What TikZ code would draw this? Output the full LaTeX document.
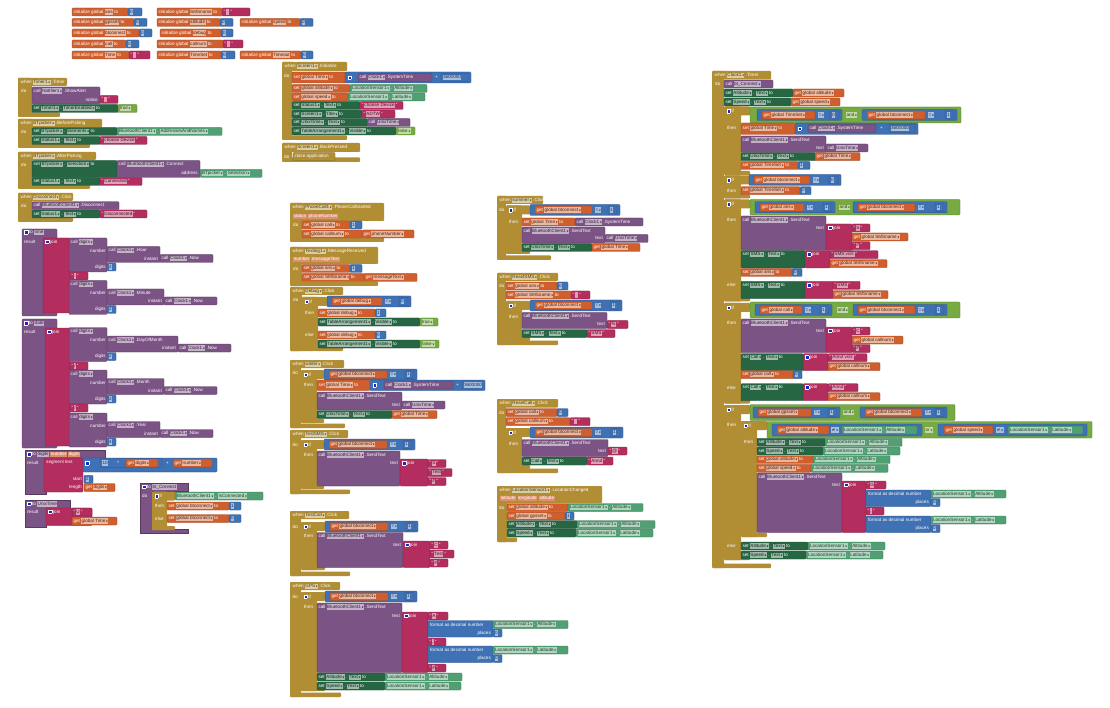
\documentclass[tikz,border=0pt]{standalone}
\usepackage{graphicx}
\usepackage{fontspec}
\newfontfamily\lib{Liberation Sans}
\newfontfamily\dvs{DejaVu Sans}
\definecolor{cev}{RGB}{177,141,52}
\definecolor{cva}{RGB}{208,95,45}
\definecolor{cse}{RGB}{38,102,67}
\definecolor{cge}{RGB}{80,160,115}
\definecolor{cpr}{RGB}{124,83,133}
\definecolor{cma}{RGB}{63,113,181}
\definecolor{ctx}{RGB}{179,45,94}
\definecolor{clo}{RGB}{119,171,65}
\definecolor{icb}{RGB}{20,40,200}
\newcommand\blkfont{\lib\fontsize{4.6}{5}\selectfont}
\newcounter{bn}
\tikzset{lbl/.style={anchor=west,inner sep=0pt,text=white,font=\blkfont,
  execute at begin node={\colorlet{fldc}{white!55!#1}\colorlet{fldt}{#1!40!black}}}}
\newcommand\Fl[1]{{\setlength\fboxsep{0.45pt}\colorbox{fldc}{\color{fldt}\vphantom{Ag}#1}}}
\newcommand\Dd[1]{{\setlength\fboxsep{0.45pt}\colorbox{fldc}{\color{fldt}\vphantom{Ag}#1\,{\dvs\scalebox{0.5}{▼}}}}}
\newcommand\Pf[1]{{\setlength\fboxsep{0.6pt}\colorbox{cva!70!white}{\color{white}\vphantom{Ag}#1}}}
\newcommand\Qt[1]{"\,\Fl{#1}\,"}
\newcommand\Ic{{\setlength\fboxsep{0pt}\setlength\fboxrule{0.25pt}\fcolorbox{white}{icb}{\rule{0pt}{3.2pt}\rule{3.2pt}{0pt}}}}
\newcommand\Tx[4]{\stepcounter{bn}\node[lbl=#1] (n\arabic{bn}) at (#2,#3) {#4};}
\newcommand\Te[4]{\stepcounter{bn}\node[lbl=#1,anchor=east] (n\arabic{bn}) at (#2,#3) {#4};}
\newcommand\Bx[5]{\filldraw[fill=#1,draw=#1!70!black,line width=0.2pt,rounded corners=0.8pt] (#2,#3) rectangle (#4,#5);}
\newcommand\Rw[5]{\Bx{#1}{#2}{#4-4}{#3}{#4+4}\Tx{#1}{#2+1.4}{#4}{#5}}
\newcommand\Nm[4]{\Rw{cma}{#1}{#2}{#3}{\Fl{#4}}}
\newcommand\Str[4]{\Rw{ctx}{#1}{#2}{#3}{\Qt{#4}}}
\newcommand\Getv[4]{\Rw{cva}{#1}{#2}{#3}{get \Dd{#4}}}
\newcommand\Setv[4]{\Rw{cva}{#1}{#2}{#3}{set \Dd{global #4} to}}
\newcommand\Setc[5]{\Rw{cse}{#1}{#2}{#3}{set \Dd{#4} . \Dd{#5} to}}
\newcommand\Loc[4]{\Rw{cge}{#1}{#2}{#3}{\Dd{LocationSensor1} . \Dd{#4}}}
\newcommand\SendT[5]{\Bx{cpr}{#1}{#2}{#3}{#4}\Tx{cpr}{#1+1.4}{#2+4}{call \Dd{BluetoothClient1} .SendText}\Te{cpr}{#3-2}{#5}{text}}
\newcommand\Cmp[6]{\Bx{cma}{#1}{#4-5.5}{#3}{#4+5.5}\Rw{cva}{#1+5}{#2}{#4}{get \Dd{global #5}}\Tx{cma}{#2+3}{#4}{\Dd{=}}\Nm{#3-12}{#3-3}{#4}{#6}}
\newcommand\Fmt[3]{\Bx{cma}{#1}{#2}{#1+65}{#2+16.5}\Tx{cma}{#1+2}{#2+4}{format as decimal number}\Te{cma}{#1+63}{#2+12.5}{places}\Loc{#1+65}{#1+140}{#2+4}{#3}\Nm{#1+65}{#1+74}{#2+12.5}{0}}
\newcommand\Dig[4]{\Bx{cpr}{69}{#1}{107}{#1+34}\Tx{cpr}{70.5}{#1+4}{call \Dd{digits}}%
 \Te{cpr}{106}{#1+12.5}{number}%
 \Bx{cpr}{107}{#1+8.5}{#3}{#1+24.5}\Tx{cpr}{108.5}{#1+12.5}{call \Dd{Clock1} .#2}\Te{cpr}{#3-2}{#1+20.5}{instant}%
 \Rw{cpr}{#3}{#3+53}{#1+20.5}{call \Dd{Clock1} .Now}%
 \Te{cpr}{106}{#1+29}{digits}\Nm{107}{116}{#1+29}{#4}}
\newcommand\Ev[8]{\fill[cev,rounded corners=1pt] (#1,#2) rectangle (#3,#4); \fill[cev,rounded corners=1pt] (#1,#2) rectangle (#5,#6); \fill[cev,rounded corners=1pt] (#1,#6-4.5) rectangle (#7,#6); \Tx{cev}{#1+2.5}{#2+4.5}{#8}}
\newcommand\If[5]{\fill[cev,rounded corners=1pt] (#1,#2) rectangle (#3,#2+9); \fill[cev,rounded corners=1pt] (#1,#2) rectangle (#4,#5); \fill[cev,rounded corners=1pt] (#1,#5-4) rectangle (#3,#5); \Tx{cev}{#1+2.5}{#2+4.5}{\Ic\ if}}

\begin{document}
\begin{tikzpicture}[x=1pt,y=-1pt]
\fill[white] (0,0) rectangle (1110,708);
\useasboundingbox (0,0) rectangle (1110,708);
% ---------- globals
\Rw{cva}{72}{128}{12}{initialize global \Fl{ans} to}\Nm{128}{142}{12}{0}
\Rw{cva}{72}{134}{22.5}{initialize global \Fl{gpsset} to}\Nm{134}{147}{22.5}{0}
\Rw{cva}{72}{139}{33}{initialize global \Fl{btconnect} to}\Nm{139}{152}{33}{0}
\Rw{cva}{72}{126}{44}{initialize global \Fl{call} to}\Nm{126}{139}{44}{0}
\Rw{cva}{72}{129}{55}{initialize global \Fl{Time} to}\Str{129}{150}{55}{\phantom{0}}
\Rw{cva}{157}{222}{12}{initialize global \Fl{SMSname} to}\Str{222}{250}{12}{\phantom{0}}
\Rw{cva}{157}{220}{22.5}{initialize global \Fl{altitude} to}\Nm{220}{233}{22.5}{0}
\Rw{cva}{160}{221}{33}{initialize global \Fl{debug} to}\Nm{221}{233}{33}{0}
\Rw{cva}{157}{223}{44}{initialize global \Fl{callnum} to}\Str{223}{243}{44}{\phantom{0}}
\Rw{cva}{157}{221}{55}{initialize global \Fl{TimeSet} to}\Nm{221}{235}{55}{0}
\Rw{cva}{240}{300}{22.5}{initialize global \Fl{speed} to}\Nm{300}{313}{22.5}{0}
\Rw{cva}{240}{301}{55}{initialize global \Fl{Timeout} to}\Nm{301}{313}{55}{0}
% ---------- Screen1.Initialize
\Ev{282}{62}{347}{71}{292}{140}{347}{when \Dd{Screen1} .Initialize}
\Tx{cev}{284}{76}{do}
\Bx{cva}{292}{72}{346}{83}\Tx{cva}{293.5}{77.5}{set \Dd{global Time} to}
\Bx{cma}{345}{72}{471}{83}\Tx{cma}{347.5}{77.5}{\Ic}
\Rw{cpr}{358}{432}{77.5}{call \Dd{Clock1} .SystemTime}\Tx{cma}{435}{77.5}{+}\Nm{441}{468}{77.5}{3600000}
\Setv{292}{350}{88.5}{altitude}\Loc{350}{427}{88.5}{Altitude}
\Setv{292}{348}{97}{speed}\Loc{348}{425}{97}{Latitude}
\Setc{292}{360}{105.5}{Status1}{Text}\Str{360}{403}{105.5}{choose Device}
\Setc{292}{362}{114}{Screen1}{Title}\Str{362}{395}{114}{ADTW}
\Setc{292}{367}{122.5}{UnixTime}{Text}\Rw{cpr}{367}{410}{122.5}{call \Dd{UnixTime}}
\Setc{292}{396}{131}{TableArrangement1}{Visible}\Rw{clo}{396}{415}{131}{\Dd{false}}
% ---------- Screen1.BackPressed
\Ev{282}{143}{360}{152}{292}{162}{360}{when \Dd{Screen1} .BackPressed}
\Tx{cev}{284}{157}{do}
\Rw{cev}{293}{335}{156.5}{close application}
% ---------- Timer1.Timer
\Ev{18}{78}{67}{86}{32}{117}{60}{when \Dd{Timer1} .Timer}
\Tx{cev}{21}{91}{do}
\Bx{cpr}{32}{87}{100}{104}\Tx{cpr}{33.5}{91}{call \Dd{Notifier1} .ShowAlert}\Te{cpr}{98}{99.5}{notice}
\Str{100}{118}{99.5}{\phantom{0}}
\Setc{32}{118}{108.5}{Timer1}{TimerEnabled}\Rw{clo}{118}{137}{108.5}{\Dd{true}}
% ---------- BTpicker.BeforePicking
\Ev{18}{119}{102}{127.5}{32}{148}{90}{when \Dd{BTpicker} .BeforePicking}
\Tx{cev}{21}{131.5}{do}
\Setc{32}{117}{131.5}{BTpicker}{Elements}\Rw{cge}{117}{222}{131.5}{\Dd{BluetoothClient1} . \Dd{AddressesAndNames}}
\Setc{32}{100}{140.5}{Status1}{Text}\Str{100}{147}{140.5}{choose Device}
% ---------- BTpicker.AfterPicking
\Ev{18}{152}{96}{160}{32}{189}{90}{when \Dd{BTpicker} .AfterPicking}
\Tx{cev}{21}{164.5}{do}
\Bx{cse}{32}{160.5}{117}{177.5}\Tx{cse}{33.5}{164.5}{set \Dd{BTpicker} . \Dd{Selection} to}
\Bx{cpr}{117}{160.5}{200}{177.5}\Tx{cpr}{118.5}{164.5}{call \Dd{BluetoothClient1} .Connect}\Te{cpr}{198}{173.3}{address}
\Rw{cge}{200}{262}{173.3}{\Dd{BTpicker} . \Dd{Selection}}
\Setc{32}{100}{181.5}{Status1}{Text}\Str{100}{142}{181.5}{Connected}
% ---------- Disconnect.Click
\Ev{18}{193}{73}{201}{32}{222}{73}{when \Dd{Disconnect} .Click}
\Tx{cev}{21}{205.7}{do}
\Rw{cpr}{32}{119}{205.7}{call \Dd{BluetoothClient1} .Disconnect}
\Setc{32}{100}{214}{Status1}{Text}\Str{100}{147}{214}{Disconnected}
% ---------- to time
\Bx{cpr}{22}{229}{57}{316}
\Tx{cpr}{24}{232.5}{\Ic\ to \Fl{time}}\Tx{cpr}{24}{242}{result}
\Bx{ctx}{43}{238}{70}{313}\Tx{ctx}{45}{242}{\Ic\ join}
\Dig{238}{Hour}{160}{2}
\Str{70}{88}{276}{:}
\Dig{280.5}{Minute}{164}{2}
% ---------- to date
\Bx{cpr}{22}{319}{57}{448}
\Tx{cpr}{24}{323.5}{\Ic\ to \Fl{date}}\Tx{cpr}{24}{332}{result}
\Bx{ctx}{45}{328}{70}{446}\Tx{ctx}{47}{332}{\Ic\ join}
\Dig{327.5}{DayOfMonth}{178}{2}
\Str{70}{88}{366}{/}
\Dig{370}{Month}{164}{2}
\Str{70}{88}{408}{/}
\Dig{413}{Year}{160}{4}
% ---------- to digits
\filldraw[fill=cpr,draw=cpr!70!black,line width=0.2pt] (25,450) -- (105,450) -- (105,459) -- (46,459) -- (46,494) -- (25,494) -- cycle;
\Tx{cpr}{27}{454.5}{\Ic\ to \Fl{digits} \Pf{number} \Pf{digits}}
\Tx{cpr}{27}{463}{result}
\Bx{ctx}{44}{458}{83}{492}\Tx{ctx}{46}{462.7}{segment text}
\Bx{cma}{83}{458}{217}{472}\Tx{cma}{85}{463}{\Ic}
\Bx{cma}{100}{458.7}{162}{467.3}\Tx{cma}{102}{463}{\Fl{10}}\Tx{cma}{117}{463}{\textasciicircum}
\Getv{126}{158}{463}{digits}
\Tx{cma}{166}{463}{+}\Getv{173}{212}{463}{number}
\Te{ctx}{82}{479.3}{start}\Nm{84}{93}{479.3}{2}
\Te{ctx}{82}{487.5}{length}\Getv{84}{115}{487.5}{digits}
% ---------- to UnixTime
\filldraw[fill=cpr,draw=cpr!70!black,line width=0.2pt] (25,500) -- (70,500) -- (70,508) -- (46,508) -- (46,527) -- (25,527) -- cycle;
\Tx{cpr}{27}{504}{\Ic\ to \Fl{UnixTime}}\Tx{cpr}{27}{512}{result}
\Bx{ctx}{46}{508}{92}{525.5}\Tx{ctx}{48}{512}{\Ic\ join}
\Str{72}{92}{512}{U}
\Getv{72}{117}{521}{global Time}
% ---------- to bt_Connect
\filldraw[fill=cpr,draw=cpr!70!black,line width=0.2pt] (140,483) -- (188,483) -- (188,491) -- (152,491) -- (152,529) -- (188,529) -- (188,533) -- (140,533) -- cycle;
\Tx{cpr}{142}{487}{\Ic\ to \Fl{bt\_Connect}}\Tx{cpr}{142}{496}{do}
\If{152}{491.5}{175}{167}{530}
\Tx{cev}{155}{506}{then}\Tx{cev}{155}{518.5}{else}
\Rw{cge}{175}{263}{496}{\Dd{BluetoothClient1} . \Dd{IsConnected}}
\Setv{167}{229}{506}{btconnect}\Nm{229}{241}{506}{1}
\Setv{167}{229}{518.5}{btconnect}\Nm{229}{241}{518.5}{0}
% ---------- PhoneCall1.PhoneCallStarted
\Ev{290}{203}{384}{221}{302}{242}{384}{when \Dd{PhoneCall1} .PhoneCallStarted}
\Tx{cev}{293}{216.5}{\Pf{status} \Pf{phoneNumber}}
\Tx{cev}{293}{225}{do}
\Setv{302}{350}{225}{call}\Nm{350}{362}{225}{1}
\Setv{302}{362}{234}{callnum}\Getv{362}{414}{234}{phoneNumber}
% ---------- Texting1.MessageReceived
\Ev{290}{247}{378}{264}{302}{286}{378}{when \Dd{Texting1} .MessageReceived}
\Tx{cev}{293}{259.5}{\Pf{number} \Pf{messageText}}
\Tx{cev}{293}{268.5}{do}
\Setv{302}{350}{268.5}{ans}\Nm{350}{362}{268.5}{1}
\Setv{302}{364}{277.5}{SMSname}\Getv{364}{417}{277.5}{messageText}
% ---------- Debug.Click
\Ev{290}{287}{343}{295}{302}{351}{343}{when \Dd{Debug} .Click}
\Tx{cev}{293}{299.5}{do}
\If{302}{297}{327}{318}{348.5}
\Tx{cev}{305}{313}{then}\Tx{cev}{305}{335}{else}
\Cmp{327}{382}{411}{301.5}{debug}{0}
\Setv{318}{375}{313}{debug}\Nm{375}{386}{313}{1}
\Setc{318}{420}{322}{TableArrangement1}{Visible}\Rw{clo}{420}{438}{322}{\Dd{true}}
\Setv{318}{375}{335}{debug}\Nm{375}{386}{335}{0}
\Setc{318}{420}{344}{TableArrangement1}{Visible}\Rw{clo}{420}{439}{344}{\Dd{false}}
% ---------- winter.Click
\Ev{290}{360}{344}{368}{301}{428}{345}{when \Dd{winter} .Click}
\Tx{cev}{292.5}{373}{do}
\If{301}{370}{324}{317}{423}
\Tx{cev}{304}{385}{then}
\Cmp{324}{387}{417}{374.5}{btconnect}{1}
\Bx{cva}{317}{380}{370}{390.5}\Tx{cva}{318.5}{385}{set \Dd{global Time} to}
\Bx{cma}{370}{380}{485}{390.5}\Tx{cma}{372.5}{385}{\Ic}
\Rw{cpr}{384}{453}{385}{call \Dd{Clock1} .SystemTime}\Tx{cma}{456}{385}{+}\Nm{462}{482}{385}{3600000}
\SendT{317}{392}{402}{410}{405}\Rw{cpr}{402}{445}{405}{call \Dd{UnixTime}}
\Setc{317}{392}{414.5}{UnixTime}{Text}\Getv{392}{437}{414.5}{global Time}
% ---------- TestSMS.Click
\Ev{290}{430}{348}{438}{301}{494}{350}{when \Dd{TestSMS} .Click}
\Tx{cev}{292.5}{444.5}{do}
\If{301}{440}{324}{317}{489}
\Tx{cev}{304}{455}{then}
\Cmp{324}{387}{415}{444.5}{btconnect}{1}
\SendT{317}{451}{400}{486}{463.5}
\Bx{ctx}{400}{459}{428}{486}\Tx{ctx}{402}{463.5}{\Ic\ join}
\Str{428}{446}{463.5}{S}\Str{428}{452}{472.5}{Test}\Str{428}{446}{481.5}{\#}
% ---------- TestCall.Click
\Ev{290}{511}{349}{519}{301}{576}{350}{when \Dd{TestCall} .Click}
\Tx{cev}{292.5}{526.5}{do}
\If{301}{522}{325}{317}{570}
\Tx{cev}{304}{536}{then}
\Cmp{325}{388}{418}{526.5}{btconnect}{1}
\SendT{317}{532.5}{403}{567.5}{545}
\Bx{ctx}{403}{541}{430}{567.5}\Tx{ctx}{405}{545}{\Ic\ join}
\Str{430}{448}{545}{C}\Str{430}{454}{554}{Test}\Str{430}{448}{563}{\#}
% ---------- GPS.Click
\Ev{290}{582}{340}{590}{301}{697}{341}{when \Dd{GPS} .Click}
\Tx{cev}{292.5}{596.5}{do}
\If{301}{592}{325}{317}{691}
\Tx{cev}{304}{607}{then}
\Cmp{325}{388}{417}{596.5}{btconnect}{1}
\SendT{317}{603}{402}{672.5}{616}
\Bx{ctx}{402}{612}{428}{672.5}\Tx{ctx}{404}{616}{\Ic\ join}
\Str{428}{448}{616}{A}
\Fmt{428}{620.5}{Altitude}
\Str{428}{446}{642}{,}
\Fmt{428}{646}{Latitude}
\Str{428}{446}{668}{\#}
\Setc{317}{385}{677}{Altitude}{Text}\Loc{385}{462}{677}{Altitude}
\Setc{317}{385}{686}{Speed}{Text}\Loc{385}{461}{686}{Latitude}
% ---------- summer.Click
\Ev{497}{196}{543}{204}{506}{260}{551}{when \Dd{summer} .Click}
\Tx{cev}{499}{210}{do}
\If{506}{205.5}{530}{522}{254}
\Tx{cev}{509}{222}{then}
\Cmp{530}{592}{620}{210}{btconnect}{1}
\Setv{522}{575}{222}{Time}\Rw{cpr}{575}{643}{222}{call \Dd{Clock1} .SystemTime}
\SendT{522}{227}{605}{243}{238.5}\Rw{cpr}{605}{648}{238.5}{call \Dd{UnixTime}}
\Setc{522}{592}{247.5}{UnixTime}{Text}\Getv{592}{640}{247.5}{global Time}
% ---------- ResetSMS.Click
\Ev{497}{273}{558}{281}{506}{345}{558}{when \Dd{ResetSMS} .Click}
\Tx{cev}{499}{286}{do}
\Setv{506}{557}{286}{ans}\Nm{557}{568}{286}{0}
\Setv{506}{571}{295}{SMSname}\Str{571}{590}{295}{\phantom{0}}
\If{506}{301}{530}{522}{341}
\Tx{cev}{509}{316.5}{then}
\Cmp{530}{592}{622}{305.5}{btconnect}{1}
\SendT{522}{312.5}{607}{328.5}{324.5}\Str{607}{628}{324.5}{\%}
\Setc{522}{587}{333.5}{SMS}{Text}\Str{587}{615}{333.5}{SMS}
% ---------- ResetCall.Click
\Ev{497}{399}{558}{407.5}{506}{473}{558}{when \Dd{ResetCall} .Click}
\Tx{cev}{499}{412.5}{do}
\Setv{506}{557}{412.5}{call}\Nm{557}{568}{412.5}{0}
\Setv{506}{570}{421.7}{callnum}\Str{570}{590}{421.7}{\phantom{0}}
\If{506}{428}{530}{522}{469}
\Tx{cev}{509}{443.5}{then}
\Cmp{530}{592}{623}{432.5}{btconnect}{1}
\SendT{522}{439.5}{608}{456.5}{451}\Str{608}{627}{451}{@}
\Setc{522}{587}{461}{Call}{Text}\Str{587}{613}{461}{Anruf}
% ---------- LocationSensor1.LocationChanged
\Ev{497}{486}{602}{503}{507}{542}{517}{when \Dd{LocationSensor1} .LocationChanged}
\Tx{cev}{500}{498.5}{\Pf{latitude} \Pf{longitude} \Pf{altitude}}
\Tx{cev}{499}{507.5}{do}
\Setv{507}{568}{507.5}{altitude}\Loc{568}{643}{507.5}{Altitude}
\Setv{507}{565}{516}{gpsset}\Nm{565}{574}{516}{1}
\Setc{507}{577}{524.5}{Altitude}{Text}\Loc{577}{655}{524.5}{Altitude}
\Setc{507}{576}{533}{Speed}{Text}\Loc{576}{653}{533}{Latitude}
% ---------- Clock1.Timer
\Ev{712}{71}{771}{79.5}{724}{568}{771}{when \Dd{Clock1} .Timer}
\Tx{cev}{715}{84}{do}
\Rw{cpr}{724}{773}{84}{call \Dd{bt\_Connect}}
\Setc{724}{793}{93}{Altitude}{Text}\Getv{793}{844}{93}{global altitude}
\Setc{724}{791}{102}{Speed}{Text}\Getv{791}{840}{102}{global speed}
% if 1
\If{724}{106.5}{750}{741}{175}
\Tx{cev}{727}{127.5}{then}
\Bx{clo}{750}{107}{961}{123}
\Cmp{757}{815}{842}{115}{TimeSet}{0}
\Tx{clo}{846}{115}{\Dd{and}}
\Cmp{862}{925}{957}{115}{btconnect}{1}
\Bx{cva}{741}{123}{795}{134.5}\Tx{cva}{742.5}{128.5}{set \Dd{global Time} to}
\Bx{cma}{795}{123}{918}{134.5}\Tx{cma}{797.5}{128.5}{\Ic}
\Rw{cpr}{808}{876}{128.5}{call \Dd{Clock1} .SystemTime}\Tx{cma}{880}{128.5}{+}\Nm{889}{915}{128.5}{3600000}
\SendT{741}{136}{826}{152.5}{148}\Rw{cpr}{826}{868}{148}{call \Dd{UnixTime}}
\Setc{741}{815}{156.7}{UnixTime}{Text}\Getv{815}{860}{156.7}{global Time}
\Setv{741}{798}{165.5}{TimeSet}\Nm{798}{810}{165.5}{1}
% if 2
\If{724}{175.5}{750}{741}{198.5}
\Tx{cev}{727}{190.7}{then}
\Cmp{749}{810}{841}{180}{btconnect}{0}
\Setv{741}{800}{190.7}{TimeSet}\Nm{800}{811}{190.7}{0}
% if 3
\If{724}{199.5}{750}{741}{301.5}
\Tx{cev}{727}{219.7}{then}\Tx{cev}{727}{285.3}{else}
\Bx{clo}{750}{199.5}{960}{215}
\Cmp{755}{804}{835}{207.3}{ans}{1}
\Tx{clo}{839}{207.3}{\Dd{and}}
\Cmp{853}{915}{947}{207.3}{btconnect}{1}
\SendT{741}{216}{826}{250.5}{228}
\Bx{ctx}{826}{224}{852}{250.5}\Tx{ctx}{828}{228}{\Ic\ join}
\Str{852}{870}{228}{S}\Getv{852}{908}{237}{global SMSname}\Str{852}{870}{245.7}{\#}
\Bx{cse}{741}{250.7}{805}{268}\Tx{cse}{742.5}{254.7}{set \Dd{SMS} . \Dd{Text} to}
\Bx{ctx}{805}{250.7}{830}{268}\Tx{ctx}{807}{254.7}{\Ic\ join}
\Str{830}{878}{254.7}{SMS von:}\Getv{830}{887}{263.7}{global SMSname}
\Setv{741}{792}{272.5}{ans}\Nm{792}{802}{272.5}{0}
\Bx{cse}{741}{281.3}{805}{298.7}\Tx{cse}{742.5}{285.3}{set \Dd{SMS} . \Dd{Text} to}
\Bx{ctx}{805}{281.3}{833}{298.7}\Tx{ctx}{807}{285.3}{\Ic\ join}
\Str{833}{860}{285.3}{SMS}\Getv{833}{888}{294.7}{global SMSname}
% if 4
\If{724}{303}{750}{741}{403.5}
\Tx{cev}{727}{323}{then}\Tx{cev}{727}{387.7}{else}
\Bx{clo}{750}{302}{960}{318}
\Cmp{755}{802}{832}{310}{call}{1}
\Tx{clo}{837}{310}{\Dd{and}}
\Cmp{853}{915}{947}{310}{btconnect}{1}
\SendT{741}{319}{826}{352.7}{331}
\Bx{ctx}{826}{327}{852}{352.7}\Tx{ctx}{828}{331}{\Ic\ join}
\Str{852}{870}{331}{C}\Getv{852}{903}{340}{global callnum}\Str{852}{870}{348.5}{\#}
\Bx{cse}{741}{353.7}{803}{370.7}\Tx{cse}{742.5}{357.7}{set \Dd{Call} . \Dd{Text} to}
\Bx{ctx}{803}{353.7}{828}{370.7}\Tx{ctx}{805}{357.7}{\Ic\ join}
\Str{828}{867}{357.7}{Anruf von:}\Getv{828}{880}{366.7}{global callnum}
\Setv{741}{793}{374.7}{call}\Nm{793}{802}{374.7}{0}
\Bx{cse}{741}{383.7}{803}{400.7}\Tx{cse}{742.5}{387.7}{set \Dd{Call} . \Dd{Text} to}
\Bx{ctx}{803}{383.7}{828}{400.7}\Tx{ctx}{805}{387.7}{\Ic\ join}
\Str{828}{858}{387.7}{Anruf}\Getv{828}{880}{396.7}{global callnum}
% if 5
\If{724}{405}{750}{741}{560}
\Tx{cev}{727}{425}{then}\Tx{cev}{727}{546}{else}
\Bx{clo}{750}{404.5}{955}{420.5}
\Cmp{753}{811}{840}{412.5}{gpsset}{1}
\Tx{clo}{843}{412.5}{\Dd{and}}
\Cmp{860}{922}{947}{412.5}{btconnect}{1}
\If{741}{421}{767}{757}{537}
\Tx{cev}{744}{442.3}{then}
\Bx{clo}{767}{421.5}{1092}{438}
\Bx{cma}{772}{424}{922}{436}\Rw{cva}{777}{829}{430}{get \Dd{global altitude}}\Tx{cma}{831}{430}{\Dd{\dvs ≠}}\Loc{842}{917}{430}{Altitude}
\Tx{clo}{925}{430}{\Dd{or}}
\Bx{cma}{938}{424}{1087}{436}\Rw{cva}{944}{993}{430}{get \Dd{global speed}}\Tx{cma}{996}{430}{\Dd{\dvs ≠}}\Loc{1008}{1083}{430}{Latitude}
\Setc{757}{825}{442.3}{Altitude}{Text}\Loc{825}{902}{442.3}{Altitude}
\Setc{757}{823}{451}{Speed}{Text}\Loc{823}{900}{451}{Latitude}
\Setv{757}{813}{459.6}{altitude}\Loc{813}{890}{459.6}{Altitude}
\Setv{757}{811}{468.3}{speed}\Loc{811}{888}{468.3}{Latitude}
\SendT{757}{473}{842}{532.5}{485}
\Bx{ctx}{842}{481}{866}{532.5}\Tx{ctx}{844}{485}{\Ic\ join}
\Str{866}{886}{485}{G}
\Fmt{866}{490}{Altitude}
\Str{866}{884}{511}{,}
\Fmt{866}{516}{Latitude}
\Setc{741}{808}{546}{Altitude}{Text}\Loc{808}{885}{546}{Altitude}
\Setc{741}{806}{555}{Speed}{Text}\Loc{806}{883}{555}{Latitude}
\end{tikzpicture}
\end{document}
